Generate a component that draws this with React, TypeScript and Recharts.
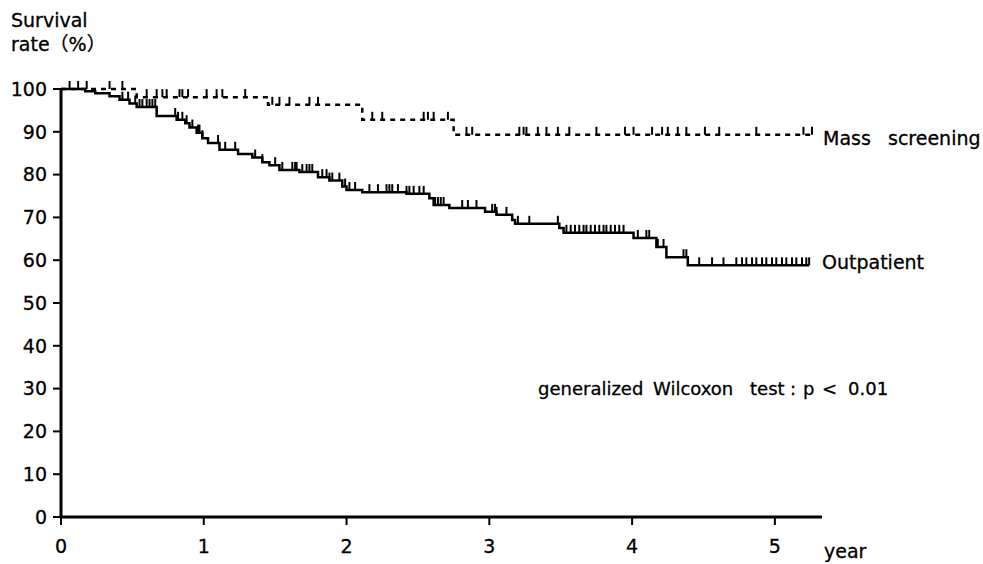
import React from 'react';
import { ComposedChart, Line, XAxis, YAxis } from 'recharts';

// Outpatient: time (years) of each drop and survival (%) after it
const outEventTimes = [0, 0.17, 0.24, 0.34, 0.41, 0.48, 0.53, 0.67, 0.81, 0.87, 0.9, 0.95, 0.99, 1.03, 1.11, 1.24, 1.34, 1.41, 1.46, 1.53, 1.67, 1.8, 1.88, 1.97, 2.0, 2.11, 2.42, 2.58, 2.61, 2.72, 2.97, 3.05, 3.16, 3.18, 3.49, 3.52, 4.01, 4.17, 4.24, 4.39];
const outEventSurv = [100, 99.5, 99.0, 98.3, 97.5, 96.6, 95.8, 93.7, 92.8, 92.0, 91.0, 89.8, 88.5, 87.4, 85.8, 84.8, 84.0, 82.9, 82.2, 81.1, 80.6, 79.4, 78.6, 77.2, 76.4, 75.9, 75.5, 74.5, 72.9, 72.2, 71.3, 70.6, 69.4, 68.5, 67.5, 66.4, 65.2, 63.1, 60.7, 58.8];
const outCensorTimes = [0.43, 0.47, 0.52, 0.55, 0.57, 0.6, 0.62, 0.64, 0.66, 0.8, 0.82, 0.85, 0.88, 0.92, 0.96, 0.97, 0.99, 1.1, 1.15, 1.22, 1.36, 1.41, 1.5, 1.55, 1.62, 1.64, 1.65, 1.69, 1.72, 1.74, 1.76, 1.83, 1.86, 1.88, 1.9, 1.95, 1.99, 2.02, 2.06, 2.16, 2.22, 2.28, 2.3, 2.32, 2.36, 2.42, 2.44, 2.47, 2.51, 2.54, 2.62, 2.64, 2.66, 2.68, 2.81, 2.85, 2.91, 3.02, 3.04, 3.05, 3.12, 3.2, 3.28, 3.48, 3.54, 3.57, 3.6, 3.63, 3.66, 3.68, 3.71, 3.74, 3.77, 3.8, 3.82, 3.85, 3.88, 3.91, 3.94, 4.04, 4.1, 4.12, 4.18, 4.22, 4.36, 4.38, 4.47, 4.56, 4.64, 4.73, 4.77, 4.8, 4.84, 4.87, 4.91, 4.94, 4.98, 5.01, 5.05, 5.08, 5.12, 5.15, 5.19, 5.22, 5.24];

// Mass screening
const massEventTimes = [0, 0.53, 1.45, 2.11, 2.75];
const massEventSurv = [100, 98.1, 96.3, 92.8, 89.3];
const massCensorTimes = [0.06, 0.12, 0.18, 0.34, 0.43, 0.6, 0.67, 0.71, 0.74, 0.83, 0.85, 0.89, 1.02, 1.09, 1.13, 1.29, 1.48, 1.53, 1.6, 1.74, 1.8, 2.18, 2.25, 2.54, 2.57, 2.61, 2.71, 2.84, 2.88, 3.21, 3.24, 3.26, 3.34, 3.4, 3.48, 3.56, 3.75, 3.95, 4.01, 4.14, 4.21, 4.25, 4.32, 4.38, 4.51, 4.61, 4.87, 5.2, 5.26];

const yearTicks = [0, 1, 2, 3, 4, 5];
const rateTicks = [0, 10, 20, 30, 40, 50, 60, 70, 80, 90, 100];

const FONT = '"DejaVu Sans", "Noto Sans CJK JP", sans-serif';

function buildSeries(evT: number[], evS: number[], cenT: number[]) {
  const pts = evT.map((t, i) => ({ t, s: evS[i], c: false }));
  cenT.forEach((t) => {
    let s = evS[0];
    evT.forEach((et, i) => {
      if (et <= t) s = evS[i];
    });
    pts.push({ t, s, c: true });
  });
  return pts.sort((a, b) => a.t - b.t || (a.c ? 1 : 0) - (b.c ? 1 : 0));
}

const outData = buildSeries(outEventTimes, outEventSurv, outCensorTimes);
const massData = buildSeries(massEventTimes, massEventSurv, massCensorTimes);

const Censor = (props: any) => {
  const { cx, cy, payload, index } = props;
  if (!payload || !payload.c) return <g key={`n${index}`} />;
  return <line key={`c${index}`} x1={cx} x2={cx} y1={cy} y2={cy - 8} stroke="#000" strokeWidth={2} />;
};

const tickStyle = { fontSize: 19, fill: '#000', fontFamily: FONT, stroke: '#000', strokeWidth: 0.3 };

export default function App() {
  return (
    <div style={{ position: 'fixed', left: 0, top: 0, width: 983, height: 564, background: '#fff' }}>
      <ComposedChart width={983} height={564} margin={{ top: 89, right: 161, bottom: 17, left: 11 }}>
        <XAxis
          type="number"
          dataKey="t"
          domain={[0, 5.33]}
          ticks={yearTicks}
          allowDataOverflow
          height={30}
          tickSize={8}
          tickMargin={15}
          axisLine={{ stroke: '#000', strokeWidth: 3 }}
          tickLine={{ stroke: '#000', strokeWidth: 2 }}
          tick={tickStyle}
        />
        <YAxis
          type="number"
          domain={[0, 100]}
          ticks={rateTicks}
          width={50}
          tickSize={8}
          tickMargin={6}
          axisLine={{ stroke: '#000', strokeWidth: 3 }}
          tickLine={{ stroke: '#000', strokeWidth: 2 }}
          tick={tickStyle}
        />
        <Line
          data={massData}
          dataKey="s"
          type="stepAfter"
          stroke="#000"
          strokeWidth={2.5}
          strokeDasharray="5 5"
          dot={Censor}
          activeDot={false}
          isAnimationActive={false}
        />
        <Line
          data={outData}
          dataKey="s"
          type="stepAfter"
          stroke="#000"
          strokeWidth={2.5}
          dot={Censor}
          activeDot={false}
          isAnimationActive={false}
        />
      </ComposedChart>
      <svg
        width={983}
        height={564}
        style={{ position: 'absolute', left: 0, top: 0, pointerEvents: 'none' }}
        fontFamily={FONT}
        fontSize={19}
        fill="#000"
        stroke="#000"
        strokeWidth={0.3}
      >
        <text x={11} y={27}>Survival</text>
        <text x={11} y={51}>rate（%）</text>
        <text x={823} y={145}>Mass</text>
        <text x={888} y={145}>screening</text>
        <text x={822} y={269}>Outpatient</text>
        <text y={395} fontSize={18}>
          <tspan x={538}>generalized</tspan>
          <tspan x={653}>Wilcoxon</tspan>
          <tspan x={750}>test</tspan>
          <tspan x={790}>:</tspan>
          <tspan x={803}>p</tspan>
          <tspan x={822}>&lt;</tspan>
          <tspan x={848}>0.01</tspan>
        </text>
        <text x={824} y={558}>year</text>
      </svg>
    </div>
  );
}
